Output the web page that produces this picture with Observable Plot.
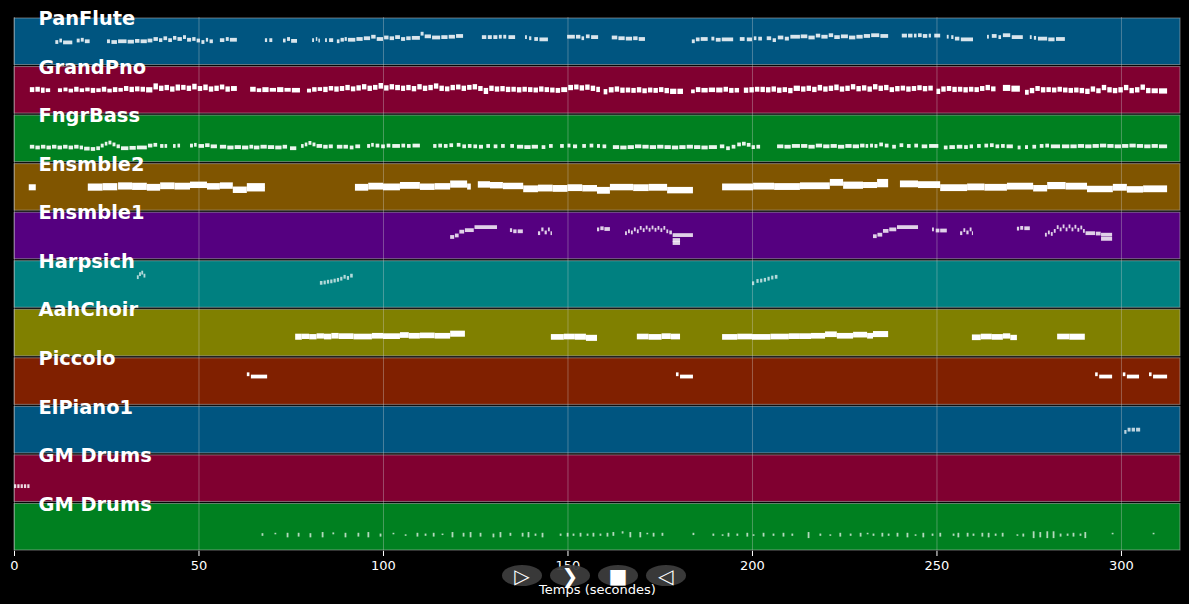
<!DOCTYPE html>
<html><head><meta charset="utf-8">
<script src="https://cdn.jsdelivr.net/npm/d3@7"></script>
<script src="https://cdn.jsdelivr.net/npm/@observablehq/plot@0.6"></script>
<style>
html,body{margin:0;padding:0;background:#000;}
#wrap{position:relative;width:1189px;height:604px;overflow:hidden;}
.btn{position:absolute;top:565px;width:40px;height:21px;border-radius:50%;background:rgba(60,60,60,0.95);color:#fff;font:bold 20px "DejaVu Sans",sans-serif;display:flex;align-items:center;justify-content:center;line-height:1;}
</style></head>
<body><div id="wrap"></div>
<script>
// ---- categories ----
const tracks = ["PanFlute","GrandPno","FngrBass","Ensmble2","Ensmble1","Harpsich","AahChoir","Piccolo","ElPiano1","GM Drums","GM Drums"];
const trackColors = ["#005580","#800030","#008020","#805500","#550080","#008080","#808000","#802000","#005580","#800030","#008020"];
const xTicks = [0,50,100,150,200,250,300];
const xLabel = "Temps (secondes)";

// ---- notes: [start s, end s, pitch low, pitch high] ----
const panFluteNotes = [
[11.2,12.0,62],[12.3,13.0,66],[13.3,15.8,61],[17.0,17.8,66],[18.1,18.9,68],[19.2,20.5,64],
[25.2,26.0,64],[26.4,27.9,62],[28.2,30.5,64],[30.8,32.5,63],[32.8,34.0,65],[34.3,36.0,64],
[36.2,37.5,66],[37.8,39.0,70],[39.3,40.2,67],[40.5,41.5,72],
[41.8,42.8,67],[43.1,44.0,73],[44.3,45.5,70],[45.8,46.6,75],[46.9,48.0,68],[48.3,49.2,70],[49.5,50.4,66],
[50.8,51.6,62],[52.0,52.6,68],[53.0,53.9,64],[55.8,57.0,67],[57.4,58.2,70],[58.5,60.4,68],
[68.0,68.6,67],[69.2,70.0,67],[72.9,73.6,66],[74.0,74.8,70],[75.1,76.7,65],
[80.8,81.3,67],[81.8,82.2,70],[82.5,82.9,66],[84.3,84.8,67],[85.4,86.5,67],
[87.5,88.2,64],[88.5,89.4,68],[89.6,90.2,70],
[90.5,92.5,68],[92.8,94.5,70],[94.8,96.5,72],[96.8,98.0,76],[98.3,100.0,70],[100.3,101.5,74],[101.8,103.0,72],[103.3,104.6,75],
[104.9,106.0,70],[106.3,107.5,72],[107.8,110.0,73],
[110.2,111.0,84],[111.3,113.0,77],[113.3,115.5,74],[115.8,117.5,75],[117.8,119.5,76],[119.8,121.7,78],
[126.8,128.0,75],[128.4,129.5,75],[129.9,131.0,75],[131.4,132.2,76],[132.6,133.4,76],[134.0,135.8,75],
[138.5,139.0,75],[139.6,140.2,72],[141.0,142.0,70],[142.4,144.7,69],
[149.9,152.0,76],[152.3,153.5,76],[153.8,154.5,72],[155.0,156.0,77],[156.4,158.3,75],
[162.0,163.5,74],[163.8,165.5,72],[165.8,167.5,71],[167.8,169.0,72],[169.3,171.0,70],
[183.7,184.5,64],[184.8,185.8,69],[186.1,188.0,70],[189.0,189.8,71],[190.2,191.5,68],[191.8,194.9,69],
[196.7,198.0,70],[198.6,200.0,69],[200.5,201.2,72],[201.7,202.7,71],
[204.0,205.2,72],[205.6,206.5,67],[207.0,208.5,74],[208.9,210.0,71],[210.4,213.0,76],
[213.2,215.0,77],[215.3,217.0,74],[217.3,218.5,79],[218.8,220.5,76],[220.8,222.0,80],[222.3,223.8,75],
[224.1,226.0,77],[226.3,228.0,74],[228.3,230.0,76],[230.3,232.0,78],[232.3,234.5,80],[234.8,236.9,78],
[240.6,242.0,79],[242.3,243.5,79],[243.9,244.6,79],[245.0,246.0,80],[246.3,247.5,78],[247.9,248.5,79],[249.4,251.0,79],
[252.8,253.3,76],[254.0,254.6,75],[255.0,256.2,71],[256.6,259.9,69],
[263.7,264.2,76],[265.0,266.3,78],[266.8,267.5,75],[268.0,270.0,80],[270.4,273.4,75],
[275.3,275.8,75],[276.4,277.0,73],[277.5,280.0,71],[280.3,282.0,69],[282.4,284.8,70]
];
const grandPnoNotes = [
[4.3,5.5,63,66],[5.8,7.0,64,67],[7.3,8.3,61,65],[8.6,9.8,63],
[11.9,13.0,63],[13.4,14.5,65],[14.8,16.0,62],[16.3,17.5,64,67],[17.8,19.0,63],[19.3,20.5,65],[20.8,22.0,61,64],[22.3,23.5,63],[23.8,25.0,64,67],[25.3,26.5,62],[26.8,28.0,63,66],[28.3,29.5,64],[29.8,31.0,66,69],[31.3,32.5,63,67],[32.8,34.0,65,68],[34.3,35.5,64,67],[35.8,37.5,62,66],
[37.8,39.0,70,76],[39.3,40.5,66,70],[40.8,42.0,68,72],[42.3,43.5,64,68],[43.8,45.0,67,73],[45.3,46.5,69,72],[46.8,48.0,66,70],[48.3,49.5,70,75],[49.8,51.0,66,69],[51.3,52.5,68,73],[52.8,54.0,64,68],[54.3,55.5,66,70],[55.8,57.0,70,73],[57.3,58.5,64,68],[58.8,60.4,66,69],
[64.0,65.5,64,67],[65.8,67.0,63],[67.3,69.0,63,66],[69.3,71.0,64],[71.3,73.0,63,66],[73.3,75.0,64],[75.3,77.5,62,64],
[79.4,80.5,62],[80.8,82.0,64,66],[82.3,83.5,66],[83.8,85.0,63,67],[85.3,86.5,67,69],[86.8,88.0,64,68],[88.3,89.5,66,69],[89.8,91.0,68,72],[91.3,92.5,65,68],[92.8,94.0,67,71],[94.3,95.5,70,74],[95.8,97.0,66,70],[97.3,98.5,69,72],[98.8,100.0,72,77],[100.3,101.5,67,71],[101.8,103.0,70,74],[103.3,104.6,68,72],
[104.9,106.0,66,70],[106.3,107.5,68,72],[107.8,109.0,65,69],[109.3,110.5,70,74],[110.8,112.0,66,70],[112.3,113.5,68,72],[113.8,115.0,72,76],[115.3,116.5,66,70],[116.8,118.0,65,68],[118.3,119.5,68,72],[119.8,121.0,70,73],[121.3,122.5,66,70],[122.8,124.0,69,72],[124.3,125.5,70,74],[125.8,127.0,66,69],[127.3,128.5,58,64],[128.8,130.0,66,70],[130.3,131.5,64,68],[131.8,133.0,65,69],[133.3,134.5,63,67],[134.8,136.0,64,67],[136.3,137.5,62,66],[137.8,139.0,64,67],[139.3,140.5,63,66],[140.8,142.0,62,65],[142.3,143.5,64,68],[143.8,145.0,63,66],[145.3,146.5,62,65],[146.8,148.0,61,64],[148.3,149.9,63,66],
[150.2,151.5,68,72],[151.8,153.0,70,73],[153.3,154.5,67,71],[154.8,156.0,69,73],[156.3,157.5,66,70],[157.8,158.8,63,67],
[159.8,160.8,57,61],[161.2,162.5,62,66],[162.8,164.0,64,68],[164.3,165.5,61,65],[165.8,167.0,62,65],[167.3,168.5,61,64],[168.8,170.0,62,66],[170.3,171.5,60,63],[171.8,173.0,62,65],[173.3,174.5,61,64],[174.8,176.0,63,66],[176.3,177.5,60,64],[177.8,179.5,58,62],[179.8,181.3,58,62],
[183.5,184.5,60],[184.8,186.0,63,66],[186.3,188.0,62,64],[188.3,190.0,63,65],[190.3,192.0,62,65],[192.3,193.5,64,67],[193.8,195.0,61,64],[195.3,196.5,62,64],[197.8,199.0,61,65],[199.3,200.5,62,66],[200.8,202.0,64,67],[202.3,203.5,63,67],[203.8,205.0,62,66],[205.3,206.5,64,68],[206.8,208.0,61,65],[208.3,209.5,63,66],[209.8,211.0,60,64],[211.3,213.0,66,70],
[213.3,214.5,64,68],[214.8,216.0,66,70],[216.3,217.5,63,67],[217.8,219.0,67,72],[219.3,220.5,64,68],[220.8,222.0,66,70],[222.3,223.5,68,73],[223.8,225.0,64,68],[225.3,226.5,66,70],[226.8,228.0,70,74],[228.3,229.5,65,69],[229.8,231.0,67,71],[231.3,232.5,64,68],[232.8,234.0,70,74],[234.3,235.5,66,70],[235.8,237.0,68,72],[237.3,238.5,63,66],[238.8,240.0,65,69],[240.3,241.5,67,70],[241.8,243.0,64,68],[243.3,244.5,66,69],[244.8,246.0,68,71],[246.3,247.5,65,69],[247.8,249.0,67,70],
[250.0,251.0,58,62],[251.3,252.5,64,68],[252.8,254.0,66,69],[254.3,255.5,63,67],[255.8,257.0,64,67],[257.3,258.5,62,66],[258.8,260.0,64,67],[260.3,261.5,63,66],[261.8,263.0,66,69],[263.3,264.5,68,72],[264.8,266.0,65,68],
[268.0,270.0,66,72],[270.3,272.6,64,70],
[274.0,275.0,56,59],[275.3,276.5,60,64],[276.8,278.0,66,69],[278.3,279.5,62,66],[279.8,281.0,63,66],[281.3,282.5,62,65],[282.8,284.0,64,67],[284.3,285.5,62,65],[285.8,287.0,61,64],[287.3,288.5,62,65],[288.8,290.0,60,64],[290.3,291.5,58,62],[291.8,293.0,64,68],[293.3,294.5,60,63],[294.8,296.0,68,72],[296.3,297.5,62,66],[297.8,299.0,60,64],[299.3,300.5,62,66],[300.8,302.0,68,72],[302.3,303.5,60,64],[303.8,305.0,62,66],[305.3,306.5,69,73],[306.8,308.0,60,64],[308.3,310.0,60,63],[310.3,312.5,59,63]
];
const fngrBassNotes = [
[4.3,5.5,42],[5.8,7.0,40],[7.3,8.5,42],[8.8,10.0,40],[10.3,11.5,42],[11.8,13.0,40],[13.3,14.5,42],[14.8,16.0,40],[16.3,17.5,42],[17.8,18.7,40],
[19.0,20.5,37],[20.8,22.0,36],[22.3,23.3,38],
[23.5,24.3,45],[24.6,25.3,50],[25.6,26.4,53],[26.7,27.5,48],[27.8,28.7,43],
[29.0,31.0,38],[31.3,33.0,39],[33.3,36.0,40],[36.3,37.5,45],[37.8,38.8,47],
[39.6,40.5,44],[40.8,41.5,44],[43.1,43.8,44],[44.3,45.0,45],
[47.7,48.5,45],[48.8,49.5,47],[50.0,51.5,44],[51.8,53.0,46],[53.3,55.0,43],
[55.8,57.5,42],[57.8,59.5,40],[59.8,61.5,41],[61.8,63.5,40],[63.8,64.8,42],
[65.0,66.5,40],[66.8,68.5,42],[68.8,70.5,41],[70.8,72.5,40],[72.8,74.0,42],[74.8,76.5,38],
[77.8,78.5,44],[78.8,79.5,48],[79.8,80.6,52],[80.9,81.7,48],[82.0,83.5,44],[83.8,85.0,42],[85.3,86.4,43],
[87.5,89.0,42],[89.3,90.5,42],[91.0,92.0,40],[92.5,93.8,43],
[95.7,96.5,44],[96.8,97.5,47],[98.0,99.0,45],[99.5,100.5,43],[101.0,102.0,45],[102.5,104.6,44],
[105.0,106.0,45],[106.5,107.5,44],[108.0,110.0,45],
[113.6,114.5,44],[115.0,116.0,45],[116.5,117.5,44],[118.0,119.0,46],
[120.0,121.0,47],[121.5,122.5,43],[123.0,124.0,44],[124.5,125.5,43],[126.0,127.1,42],
[128.0,129.0,44],[130.0,131.0,43],[132.0,133.0,44],[134.5,135.5,44],
[136.3,138.0,42],[138.3,140.0,41],[140.3,142.0,42],[143.0,144.0,41],[145.0,146.0,44],
[148.0,149.0,44],[150.0,150.8,45],[151.5,152.6,43],[154.0,155.0,44],[156.0,157.0,45],[158.0,158.8,44],[159.5,160.5,43],
[162.3,164.0,41],[164.3,166.0,40],[166.3,168.0,41],[168.3,170.0,43],[170.3,172.0,42],[172.3,174.0,41],[174.3,176.0,42],[176.3,178.0,41],[178.3,180.0,40],[180.3,182.0,41],[182.3,184.0,42],[184.3,186.0,41],[186.3,188.0,40],[188.3,190.5,41],
[191.3,192.5,43],[193.0,194.0,38],[194.5,195.5,42],[196.0,197.0,48],[197.3,198.3,50],[198.6,199.6,47],[199.9,200.8,41],[201.2,202.2,42],
[206.8,208.5,43],[208.8,210.5,42],[210.8,213.0,44],
[213.3,215.0,44],[215.3,217.0,42],[217.3,219.0,45],[219.3,221.0,43],[221.3,223.0,44],[223.3,225.0,42],[225.3,227.0,44],[227.3,229.0,43],[229.3,230.5,45],[230.8,231.5,44],[232.0,232.8,45],[233.2,234.0,44],[234.5,235.5,48],[236.0,237.0,45],[238.0,239.0,42],[240.0,241.0,46],[242.0,243.0,44],[244.0,245.0,45],[246.0,247.5,43],[248.0,250.5,44],
[252.0,253.0,40],[253.5,255.0,41],[255.5,257.0,42],[257.5,258.5,41],[259.0,259.9,43],
[261.0,262.0,44],[263.0,264.0,45],[264.5,265.5,46],[266.0,267.0,43],[267.5,268.5,44],[269.0,270.7,43],
[272.0,272.8,40],[274.0,274.8,41],[276.0,277.0,42],[278.0,279.0,44],[279.5,280.5,45],[281.0,283.5,43],
[284.0,286.0,43],[286.3,288.0,43],[288.3,290.0,44],[290.3,292.0,43],[292.3,294.0,44],[294.3,296.0,45],[296.3,298.0,44],[298.3,300.0,43],[300.3,302.0,44],[302.3,304.0,45],[304.3,306.0,44],[306.3,308.0,43],[308.3,310.0,44],[310.3,312.5,43]
];
const ensmble2Notes = [
[4.0,5.9,60,66],
[20.0,24.0,59,68],[24.0,28.0,60,69],[28.2,32.0,62,71],[32.0,36.0,61,70],[36.0,39.6,59,67],[39.6,43.5,63,71],[43.5,47.7,62,70],[47.7,52.3,66,73],[52.3,55.8,62,69],[55.8,59.3,64,71],[59.3,63.1,53,60],[63.1,68.0,67,69],[63.1,68.0,57,59],
[92.4,96.0,59,67],[96.0,100.0,62,70],[100.0,104.6,60,68],[104.6,110.0,64,72],[110.0,114.0,61,68],[114.0,118.2,62,69],[118.2,122.8,67,76],[122.8,123.8,62,68],
[125.7,129.0,67,74],[129.0,132.5,65,72],[132.5,138.0,63,70],[138.0,142.0,55,63],[142.0,146.0,57,65],[146.0,150.0,56,64],[150.0,154.0,58,66],[154.0,158.0,57,64],[158.0,161.5,51,59],[161.5,167.8,60,67],[167.8,172.0,58,66],[172.0,177.0,59,67],[177.0,184.0,52,59],
[191.9,200.3,60,68],[200.3,206.0,62,70],[206.0,213.0,61,69],[213.0,221.1,63,71],[221.1,224.7,72,80],[224.7,230.1,64,73],[230.1,233.9,66,72],[233.9,236.9,68,80],
[240.1,245.0,68,76],[245.0,251.0,66,74],[251.0,258.3,58,66],[258.3,263.0,60,68],[263.0,269.1,59,67],[269.1,276.2,62,70],[276.2,280.0,57,64],[280.0,285.0,63,72],[285.0,290.8,62,70],[290.8,297.8,55,62],[297.8,301.6,59,67],[301.6,306.0,54,61],[306.0,312.5,55,63]
];
const ensmble1Notes = [
[118.2,119.3,60],[119.5,120.5,64],[120.7,122.0,74],[122.2,124.6,78],[124.8,130.9,86],
[134.4,135.0,78],[135.3,136.2,75],[136.5,137.9,75],
[142.0,142.6,70],[142.9,143.5,80],[143.8,144.4,72],[144.7,145.2,80],[145.4,145.8,70],
[158.0,158.6,80],[158.9,159.8,83],[160.0,161.5,81],
[165.6,166.1,70],[166.4,166.9,75],[167.2,167.7,72],[168.0,168.5,80],[168.8,169.3,75],[169.6,170.1,84],[170.4,170.9,78],[171.2,171.7,85],[172.0,172.5,79],[172.8,173.3,85],[173.6,174.1,79],[174.4,174.9,84],[175.2,175.7,78],[176.0,176.5,84],[176.8,177.3,75],[177.6,178.3,72],
[178.5,184.0,65],[178.5,180.5,52],[178.5,180.5,44],
[232.8,233.8,62],[234.0,235.3,66],[235.5,237.0,76],[237.2,239.1,80],[239.3,245.0,86],
[248.8,249.3,80],[249.8,250.8,77],[251.0,252.8,77],
[256.4,257.0,70],[257.3,257.8,78],[258.1,258.7,72],[259.0,259.5,80],[259.6,259.9,70],
[271.8,272.4,82],[272.7,273.5,84],[273.8,275.3,83],
[279.4,279.9,66],[280.2,280.7,72],[281.0,281.5,68],[281.8,282.3,76],[282.6,283.1,86],[283.4,283.9,80],[284.2,284.7,88],[285.0,285.5,80],[285.8,286.3,88],[286.6,287.1,80],[287.4,287.9,87],[288.2,288.7,79],[289.0,289.5,85],[289.7,290.2,76],
[290.4,293.0,70],[293.2,294.5,69],[294.6,297.6,66],[294.6,297.6,55]
];
const harpsichNotes = [
[33.3,33.8,82],[33.9,34.4,90],[34.5,35.0,94],[35.1,35.6,86],
[82.9,83.6,67],[83.9,84.5,68],[84.8,85.4,70],[85.7,86.3,71],[86.6,87.2,73],[87.5,88.1,75],[88.4,89.0,78],[89.3,89.9,83],[90.2,90.8,80],[91.1,91.8,86],
[200.0,200.6,66],[201.2,201.8,72],[202.2,202.8,73],[203.2,203.8,75],[204.2,204.8,78],[205.2,205.8,81],[206.2,206.9,83]
];
const aahChoirNotes = [
[76.2,78.0,50,56],[78.0,80.0,52,56],[80.0,82.0,51,55],[82.0,84.0,53,57],[84.0,86.0,51,56],[86.0,88.0,53,58],[88.0,92.0,52,57],[92.0,97.0,51,56],[97.0,100.0,53,58],[100.0,104.6,52,57],
[104.6,107.0,55,60],[107.0,110.0,53,58],[110.0,114.0,54,59],[114.0,118.2,53,58],[118.2,122.2,58,64],
[145.5,149.0,50,55],[149.0,152.0,51,56],[152.0,155.0,50,56],[155.0,158.0,47,53],
[168.8,172.0,51,56],[172.0,175.5,50,55],[175.5,178.0,52,57],[178.0,180.5,51,56],
[191.9,196.0,50,55],[196.0,200.0,51,56],[200.0,205.0,50,55],[205.0,210.0,51,56],[210.0,213.0,52,57],[213.0,216.0,52,57],[216.0,219.8,53,58],[219.8,223.0,57,62],[223.0,227.4,53,58],[227.4,231.2,56,61],[231.2,232.8,53,58],[232.8,236.9,57,63],
[259.6,262.0,49,54],[262.0,265.0,51,56],[265.0,268.0,50,55],[268.0,270.0,53,57],[270.0,271.8,49,53],
[282.7,286.0,51,56],[286.0,290.2,50,56]
];
const piccoloNotes = [
[63.1,63.8,82],[64.2,68.6,76],[179.4,180.1,82],[180.5,184.0,76],
[293.0,293.7,82],[294.1,297.6,76],[300.5,301.2,82],[301.6,304.9,76],[307.6,308.3,82],[308.7,312.5,76]
];
const elPiano1Notes = [[300.9,301.5,58],[301.8,302.6,64],[302.9,303.8,64],[304.1,305.2,64]];
const drums1Notes = [[0.0,0.6,43],[0.9,1.5,43],[1.8,2.4,43],[2.7,3.3,43],[3.6,4.2,43]];
// drum hits of the last track: [time s, pitch low, pitch high]
const drums2Hits = [
[67.2,40,47],[70.7,44,48],[74.0,36,48],[77.0,38,48],[80.2,36,47],[83.5,36,50],[86.4,44,49],[89.7,36,48],[93.2,38,48],[95.9,36,50],[99.2,38,46],[102.7,44,48],
[106.0,40,44],[109.2,38,48],[111.4,40,46],[113.6,38,48],[116.0,42,46],[118.7,36,50],[121.7,38,48],[123.6,36,50],[126.3,38,48],[129.8,36,46],[131.7,36,50],[134.4,40,48],[137.7,38,48],[139.3,36,50],[141.2,40,46],[143.1,36,48],
[148.0,40,46],[149.9,38,48],[151.5,40,46],[153.4,38,48],[155.3,40,46],[156.9,38,48],[158.8,40,46],[160.7,38,48],[162.3,40,50],[164.8,46,52],[166.9,36,50],[169.6,36,50],[171.5,44,48],[173.2,38,48],[175.6,40,48],
[184.0,42,48],[189.4,40,46],[191.9,40,44],[193.5,38,48],[195.9,40,46],[198.6,38,48],[200.3,40,44],[203.0,38,48],[205.7,40,46],[208.4,38,48],[210.8,40,46],
[215.2,34,50],[218.4,40,46],[221.1,40,44],[223.8,38,48],[226.6,40,46],[229.3,38,48],[231.2,44,48],[232.8,40,46],[235.2,38,48],[236.9,40,46],[239.3,38,48],[242.0,36,48],[244.2,40,44],[246.3,36,48],[248.8,40,46],[250.9,38,48],
[254.5,40,46],[255.8,36,48],[258.3,38,48],[259.9,40,46],[262.3,38,48],[264.0,36,48],[265.9,40,46],[267.8,38,48],[271.8,40,44],[273.4,38,46],
[276.2,34,52],[278.0,36,50],[279.9,34,52],[281.6,34,52],[283.5,38,46],[285.4,40,46],[287.0,38,48],[288.9,40,46],[290.2,34,50],[297.6,44,48],[308.7,44,48]
];

const noteLists = [panFluteNotes, grandPnoNotes, fngrBassNotes, ensmble2Notes, ensmble1Notes, harpsichNotes, aahChoirNotes, piccoloNotes, elPiano1Notes, drums1Notes];
const noteOpacity = [0.85, 1, 0.92, 1, 0.82, 0.7, 1, 1, 0.75, 0.85];

// ---- derived tables ----
const N = tracks.length, ROW = 128;
const base = i => (N - 1 - i) * ROW;
const bands = tracks.map((name, i) => ({name, i, y1: base(i), y2: base(i) + ROW, fill: trackColors[i]}));
const notes = noteLists.flatMap((list, i) => list.map(([t0, t1, lo, hi]) => ({
  i, t0, t1, y1: base(i) + lo - 0.5, y2: base(i) + (hi ?? lo) + 0.5, op: noteOpacity[i]
})));
const hits = drums2Hits.map(([t, lo, hi]) => ({t, y1: base(10) + lo, y2: base(10) + hi}));

const chart = Plot.plot({
  width: 1189, height: 604,
  marginTop: 17, marginBottom: 53, marginLeft: 14, marginRight: 9,
  style: {background: "#000", color: "#fff", fontFamily: "'DejaVu Sans', sans-serif", fontSize: "13px"},
  x: {domain: [0, 316], axis: null},
  y: {domain: [0, N * ROW], axis: null},
  marks: [
    Plot.rect(bands, {x1: 0, x2: 316, y1: "y1", y2: "y2", fill: "fill", insetTop: 1, insetBottom: 1,
      stroke: "#bbbbbb", strokeOpacity: 0.55, strokeWidth: 1}),
    Plot.gridX(xTicks, {stroke: "#d0d0d0", strokeOpacity: 0.35, strokeWidth: 1}),
    Plot.rect(notes, {x1: "t0", x2: "t1", y1: "y1", y2: "y2", fill: "#fff", fillOpacity: "op",
      insetTop: -1.7, insetBottom: -1.7, insetLeft: 0, insetRight: 0}),
    Plot.ruleX(hits, {x: "t", y1: "y1", y2: "y2", stroke: "#fff", strokeOpacity: 0.7, strokeWidth: 1.8}),
    Plot.text(bands, {y: "y2", text: "name", frameAnchor: "left", dx: 24, dy: 1.5, textAnchor: "start",
      lineAnchor: "middle", fill: "#fff", fontSize: 19.4, fontWeight: "bold"}),
    Plot.axisX({ticks: xTicks, tickSize: 5, tickPadding: 4, color: "#fff", fontSize: 13,
      label: xLabel, labelAnchor: "center", labelArrow: "none", labelOffset: 42})
  ]
});
const wrap = document.getElementById("wrap");
wrap.appendChild(chart);

// playback buttons overlaid at the bottom
const buttons = ["\u25B7", "\u276F", "\u25A0", "\u25C1"];
const btnLeft = [502, 550, 598, 646];
buttons.forEach((g, k) => {
  const b = document.createElement("div");
  b.className = "btn"; b.textContent = g; b.style.left = btnLeft[k] + "px";
  wrap.appendChild(b);
});
</script>
</body></html>
